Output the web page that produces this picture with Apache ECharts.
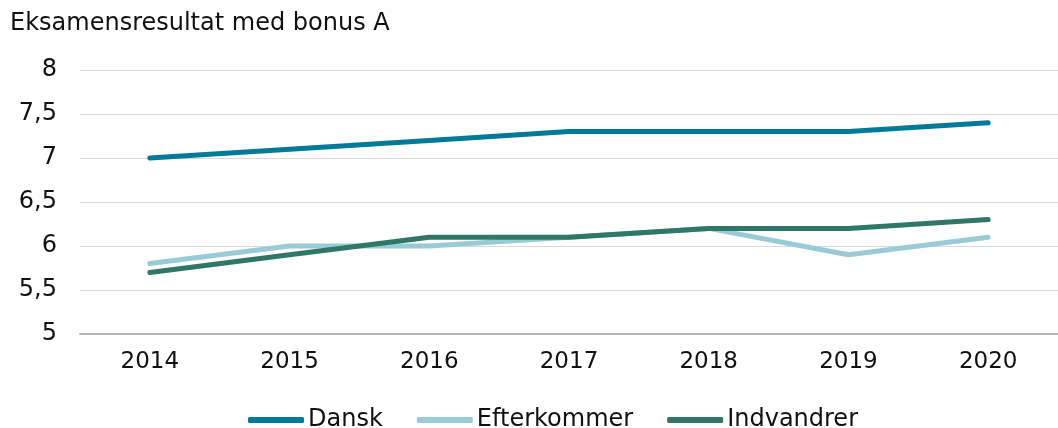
<!DOCTYPE html>
<html>
<head>
<meta charset="utf-8">
<script src="https://cdn.jsdelivr.net/npm/echarts@6/dist/echarts.min.js"></script>
<style>
  html, body { margin: 0; padding: 0; background: #fff; }
  #chart { width: 1058px; height: 428px; }
</style>
</head>
<body>
<div id="chart"></div>
<script>
// årstal og resultater
var years = ['2014', '2015', '2016', '2017', '2018', '2019', '2020'];
var dansk = [7.0, 7.1, 7.2, 7.3, 7.3, 7.3, 7.4];
var efterkommer = [5.8, 6.0, 6.0, 6.1, 6.2, 5.9, 6.1];
var indvandrer = [5.7, 5.9, 6.1, 6.1, 6.2, 6.2, 6.3];

var font = 'Verdana, "DejaVu Sans", sans-serif';

function mkLine(name, data, color) {
  return {
    type: 'line',
    name: name,
    data: data,
    showSymbol: false,
    symbol: 'none',
    lineStyle: { width: 5, color: color, cap: 'round', join: 'round' },
    itemStyle: { color: color }
  };
}

var myChart = echarts.init(document.getElementById('chart'));
myChart.setOption({
  animation: false,
  title: {
    text: 'Eksamensresultat med bonus A',
    left: 10, top: 12, padding: 0,
    textStyle: { fontFamily: font, fontSize: 24, fontWeight: 'normal', color: '#111' }
  },
  legend: {
    top: 408,
    left: 248,
    padding: 0,
    icon: 'roundRect',
    itemWidth: 56,
    itemHeight: 6,
    itemGap: 34,
    textStyle: { fontFamily: font, fontSize: 24, color: '#111', padding: [0, 0, 0, -1] },
    data: ['Dansk', 'Efterkommer', 'Indvandrer']
  },
  grid: { left: 80, top: 70, width: 987, height: 264 },
  xAxis: {
    type: 'category',
    data: years,
    boundaryGap: true,
    axisTick: { show: false },
    axisLine: { lineStyle: { color: '#b4b4b4', width: 2 } },
    axisLabel: { fontFamily: font, fontSize: 23, color: '#111', margin: 17 }
  },
  yAxis: {
    type: 'value',
    min: 5, max: 8, interval: 0.5,
    axisLine: { show: false },
    axisTick: { show: false },
    splitLine: { lineStyle: { color: '#d9d9d9', width: 1 } },
    axisLabel: {
      fontFamily: font, fontSize: 24, color: '#111', margin: 23,
      formatter: function (v) { return String(v).replace('.', ','); }
    }
  },
  series: [
    mkLine('Dansk', dansk, '#007a99'),
    mkLine('Efterkommer', efterkommer, '#99cbd7'),
    mkLine('Indvandrer', indvandrer, '#2f7767')
  ]
});
</script>
</body>
</html>
